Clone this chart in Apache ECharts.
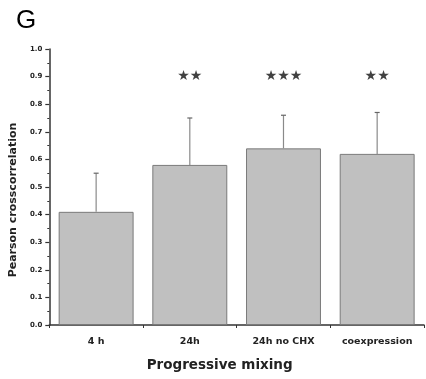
<!DOCTYPE html>
<html>
<head>
<meta charset="utf-8">
<script src="https://cdn.jsdelivr.net/npm/echarts@6/dist/echarts.min.js"></script>
<style>
html,body{margin:0;padding:0;background:#fff}
#chart{width:426px;height:379px}
</style>
</head>
<body>
<div id="chart"></div>
<script>
var categories = ['4 h', '24h', '24h no CHX', 'coexpression']
var means = [0.41, 0.58, 0.64, 0.62]
var errUpper = [0.55, 0.75, 0.76, 0.77]
var stars = ['', '\u2605\u2605', '\u2605\u2605\u2605', '\u2605\u2605']
var starLevel = 0.9
var yTicks = [0, 0.1, 0.2, 0.3, 0.4, 0.5, 0.6, 0.7, 0.8, 0.9, 1.0]

var chart = echarts.init(document.getElementById('chart'))

var option = {
    animation: false,
    backgroundColor: '#fff',
    title: {
        text: 'G',
        left: 11,
        top: 3,
        textStyle: {fontFamily: 'Liberation Sans', fontSize: 26, fontWeight: 'normal', color: '#000'}
    },
    grid: {left: 47, right: 2, top: 49, bottom: 54},
    xAxis: [
        {
            type: 'category',
            data: categories,
            name: 'Progressive mixing',
            nameLocation: 'middle',
            nameGap: 33,
            nameTextStyle: {fontFamily: 'DejaVu Sans', fontSize: 13.5, fontWeight: 'bold', color: '#222', padding: [0, 34, 0, 0]},
            axisLine: {lineStyle: {color: '#333', width: 1.5}},
            axisTick: {alignWithLabel: true, length: 5, lineStyle: {color: '#333', width: 1.5}},
            axisLabel: {interval: 0, hideOverlap: false, fontFamily: 'DejaVu Sans', fontSize: 9.5, fontWeight: 'bold', color: '#222', margin: 12}
        },
        {
            type: 'value',
            min: 0,
            max: 4,
            interval: 1,
            position: 'bottom',
            axisLine: {show: false},
            axisTick: {show: true, length: 3, lineStyle: {color: '#333', width: 1}},
            axisLabel: {show: false},
            splitLine: {show: false}
        }
    ],
    yAxis: {
        type: 'value',
        min: 0,
        max: 1,
        interval: 0.1,
        name: 'Pearson crosscorrelation',
        nameLocation: 'middle',
        nameGap: 30,
        nameTextStyle: {fontFamily: 'DejaVu Sans', fontSize: 11, fontWeight: 'bold', color: '#222', padding: [0, 26, 0, 0]},
        axisLine: {show: true, lineStyle: {color: '#333', width: 1.5}},
        axisTick: {show: true, length: 4, lineStyle: {color: '#333', width: 1.2}},
        minorTick: {show: true, splitNumber: 2, length: 2, lineStyle: {color: '#333', width: 1}},
        splitLine: {show: false},
        axisLabel: {
            fontFamily: 'DejaVu Sans', fontSize: 7, fontWeight: 'bold', color: '#222', margin: 7,
            formatter: function (v) {
                for (var i = 0; i < yTicks.length; i++) {
                    if (Math.abs(yTicks[i] - v) < 1e-6) return yTicks[i].toFixed(1)
                }
                return ''
            }
        }
    },
    series: [
        {
            type: 'bar',
            data: means,
            barWidth: '80%',
            itemStyle: {color: '#c0c0c0', borderColor: '#7a7a7a', borderWidth: 1}
        },
        {
            type: 'custom',
            data: categories.map(function (c, i) { return [i, means[i], errUpper[i]] }),
            renderItem: function (params, api) {
                var base = api.coord([api.value(0), api.value(1)])
                var top = api.coord([api.value(0), api.value(2)])
                return {
                    type: 'group',
                    children: [
                        {type: 'line', shape: {x1: base[0], y1: base[1], x2: top[0], y2: top[1]}, style: {stroke: '#8a8a8a', lineWidth: 1.2}},
                        {type: 'line', shape: {x1: top[0] - 2.5, y1: top[1], x2: top[0] + 2.5, y2: top[1]}, style: {stroke: '#666', lineWidth: 1.2}}
                    ]
                }
            },
            z: 3
        },
        {
            type: 'scatter',
            symbolSize: 0,
            data: categories.map(function (c, i) { return [i, starLevel] }),
            label: {
                show: true,
                position: 'inside',
                formatter: function (p) { return stars[p.dataIndex] },
                fontFamily: 'DejaVu Sans',
                fontSize: 14,
                color: '#111'
            }
        }
    ]
}

chart.setOption(option)
</script>
</body>
</html>
